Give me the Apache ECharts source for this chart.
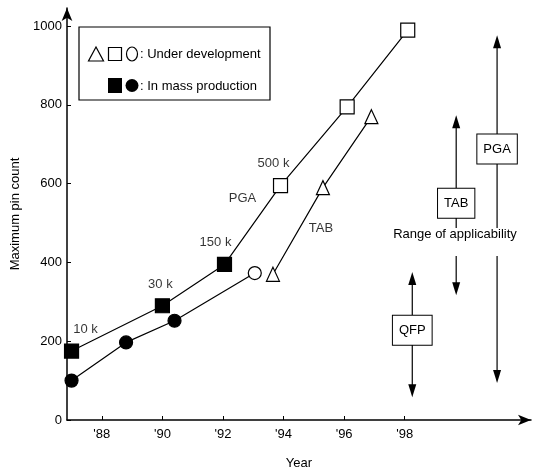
<!DOCTYPE html>
<html>
<head>
<meta charset="utf-8">
<script src="https://cdn.jsdelivr.net/npm/echarts@6.0.0/dist/echarts.min.js"></script>
<style>
    html, body { margin: 0; padding: 0; background: #fff; }
    #chart { width: 533px; height: 474px; }
</style>
</head>
<body>
<div id="chart"></div>
<script>
// PGA (squares), QFP (circles), TAB (triangles): year vs maximum pin count
var pgaYears = [1987.0, 1990.0, 1992.05, 1993.9, 1996.1, 1998.1]
var pgaPins = [175, 290, 395, 595, 795, 990]
var pgaInProduction = [true, true, true, false, false, false]

var qfpYears = [1987.0, 1988.8, 1990.4, 1993.05]
var qfpPins = [100, 197, 252, 373]
var qfpInProduction = [true, true, true, false]

var tabYears = [1993.65, 1995.3, 1996.9]
var tabPins = [370, 590, 770]

// range of applicability (pin count), drawn at the right
var rangeNames = ['QFP', 'TAB', 'PGA']
var rangeYears = [1998.25, 1999.7, 2001.05]
var rangeLow = [58, 317, 94]
var rangeHigh = [376, 774, 977]
var rangeBoxAt = [228, 550, 688]

var xTicks = [1988, 1990, 1992, 1994, 1996, 1998]
var yTicks = [0, 200, 400, 600, 800, 1000]

var FONT = "'Liberation Sans Narrow', 'Liberation Sans', Arial, sans-serif"

function points(xs, ys, produced) {
    return xs.map(function(x, i) {
        var item = { value: [x, ys[i]] }
        if (produced) {
            item.itemStyle = { color: produced[i] ? '#000' : '#fff' }
        }
        return item
    })
}

var notes = [
    { text: '10 k', at: [pgaYears[0], pgaPins[0]], offset: [14, -22] },
    { text: '30 k', at: [pgaYears[1], pgaPins[1]], offset: [-2, -21] },
    { text: '150 k', at: [pgaYears[2], pgaPins[2]], offset: [-9, -22] },
    { text: '500 k', at: [pgaYears[3], pgaPins[3]], offset: [-7, -22] },
    { text: 'PGA', at: [pgaYears[3], pgaPins[3]], offset: [-38, 13] },
    { text: 'TAB', at: [tabYears[1], tabPins[1]], offset: [-2, 41] }
]

var rangeData = rangeNames.map(function(n, i) {
    return [rangeYears[i], rangeLow[i], rangeHigh[i], rangeBoxAt[i], n]
})

function renderRange(params, api) {
    var x = api.value(0)
    var lo = api.coord([x, api.value(1)])
    var hi = api.coord([x, api.value(2)])
    var box = api.coord([x, api.value(3)])
    var px = lo[0]
    return {
        type: 'group',
        children: [
            { type: 'line', shape: { x1: px, y1: hi[1] + 10, x2: px, y2: lo[1] - 10 }, style: { stroke: '#000', lineWidth: 1.2 } },
            { type: 'polygon', shape: { points: [[px, hi[1]], [px - 4, hi[1] + 13], [px + 4, hi[1] + 13]] }, style: { fill: '#000' } },
            { type: 'polygon', shape: { points: [[px, lo[1]], [px - 4, lo[1] - 13], [px + 4, lo[1] - 13]] }, style: { fill: '#000' } },
            {
                type: 'text',
                x: px,
                y: box[1],
                style: {
                    text: rangeNames[params.dataIndex],
                    align: 'center',
                    verticalAlign: 'middle',
                    textAlign: 'center',
                    textVerticalAlign: 'middle',
                    font: '13px ' + FONT,
                    fill: '#000',
                    backgroundColor: '#fff',
                    borderColor: '#000',
                    borderWidth: 1,
                    padding: [8, 6, 8, 6]
                }
            }
        ]
    }
}

var lineBase = {
    type: 'line',
    silent: true,
    lineStyle: { color: '#000', width: 1.2 },
    itemStyle: { color: '#fff', borderColor: '#000', borderWidth: 1.2 },
    z: 3
}

var option = {
    animation: false,
    backgroundColor: '#fff',
    textStyle: { fontFamily: FONT, color: '#000' },
    grid: { left: 67, right: 2, top: 8, bottom: 54, outerBoundsMode: 'none' },
    xAxis: {
        type: 'value',
        min: 1986.85,
        max: 2002.17,
        name: 'Year',
        nameLocation: 'middle',
        nameGap: 37,
        nameTextStyle: { fontSize: 13, color: '#000', fontFamily: FONT },
        axisLine: { lineStyle: { color: '#000', width: 1.5 }, symbol: ['none', 'arrow'], symbolSize: [8, 13] },
        axisTick: { inside: true, length: 4, lineStyle: { color: '#000' }, customValues: xTicks },
        axisLabel: {
            color: '#000',
            fontSize: 13,
            fontFamily: FONT,
            margin: 8,
            customValues: xTicks,
            formatter: function(v) { return "'" + String(v).slice(2) }
        },
        splitLine: { show: false }
    },
    yAxis: {
        type: 'value',
        min: 0,
        max: 1046,
        name: 'Maximum pin count',
        nameLocation: 'middle',
        nameRotate: 90,
        nameGap: 45,
        nameTextStyle: { fontSize: 13, color: '#000', fontFamily: FONT },
        axisLine: { show: true, lineStyle: { color: '#000', width: 1.5 }, symbol: ['none', 'arrow'], symbolSize: [8, 13] },
        axisTick: { show: true, inside: true, length: 4, lineStyle: { color: '#000' }, customValues: yTicks },
        axisLabel: {
            color: '#000',
            fontSize: 13,
            fontFamily: FONT,
            margin: 5,
            customValues: yTicks,
            formatter: function(v) { return String(v) }
        },
        splitLine: { show: false }
    },
    series: [
        Object.assign({}, lineBase, {
            name: 'PGA',
            symbol: 'rect',
            symbolSize: 14,
            data: points(pgaYears, pgaPins, pgaInProduction)
        }),
        Object.assign({}, lineBase, {
            name: 'QFP',
            symbol: 'circle',
            symbolSize: 13,
            data: points(qfpYears, qfpPins, qfpInProduction)
        }),
        Object.assign({}, lineBase, {
            name: 'TAB',
            symbol: 'triangle',
            symbolSize: [13, 14],
            data: points(tabYears, tabPins)
        }),
        {
            name: 'notes',
            type: 'scatter',
            silent: true,
            symbolSize: 0,
            z: 4,
            data: notes.map(function(n) {
                return {
                    value: [n.at[0], n.at[1], n.text],
                    label: { show: true, position: 'inside', offset: n.offset }
                }
            }),
            label: {
                color: '#000',
                fontSize: 13,
                fontFamily: FONT,
                formatter: function(p) { return p.value[2] }
            }
        },
        {
            name: 'range',
            type: 'custom',
            silent: true,
            renderItem: renderRange,
            data: rangeData,
            z: 3
        }
    ],
    graphic: [
        {
            type: 'group',
            z: 100,
            children: [
                { type: 'rect', shape: { x: 79, y: 27, width: 191, height: 73 }, style: { fill: '#fff', stroke: '#000', lineWidth: 1.2 } },
                { type: 'polygon', shape: { points: [[96, 47], [88.5, 61], [103.5, 61]] }, style: { fill: '#fff', stroke: '#000', lineWidth: 1.2 } },
                { type: 'rect', shape: { x: 108.5, y: 47.5, width: 13, height: 13 }, style: { fill: '#fff', stroke: '#000', lineWidth: 1.2 } },
                { type: 'ellipse', shape: { cx: 132, cy: 54, rx: 5.5, ry: 7 }, style: { fill: '#fff', stroke: '#000', lineWidth: 1.2 } },
                { type: 'text', x: 140, y: 54, style: { text: ': Under development', font: '13px ' + FONT, fill: '#000', verticalAlign: 'middle' } },
                { type: 'rect', shape: { x: 108, y: 78, width: 14, height: 15 }, style: { fill: '#000' } },
                { type: 'circle', shape: { cx: 132, cy: 85.5, r: 6.5 }, style: { fill: '#000' } },
                { type: 'text', x: 140, y: 86, style: { text: ': In mass production', font: '13px ' + FONT, fill: '#000', verticalAlign: 'middle' } }
            ]
        },
        {
            type: 'text',
            z: 100,
            x: 455,
            y: 228,
            style: {
                text: 'Range of applicability',
                font: '13px ' + FONT,
                fill: '#000',
                align: 'center',
                verticalAlign: 'top',
                backgroundColor: '#fff',
                padding: [0, 2, 15, 2]
            }
        }
    ]
}

var myChart = echarts.init(document.getElementById('chart'))
myChart.setOption(option)

window.addEventListener('resize', function() {
    myChart.resize()
})
</script>
</body>
</html>
